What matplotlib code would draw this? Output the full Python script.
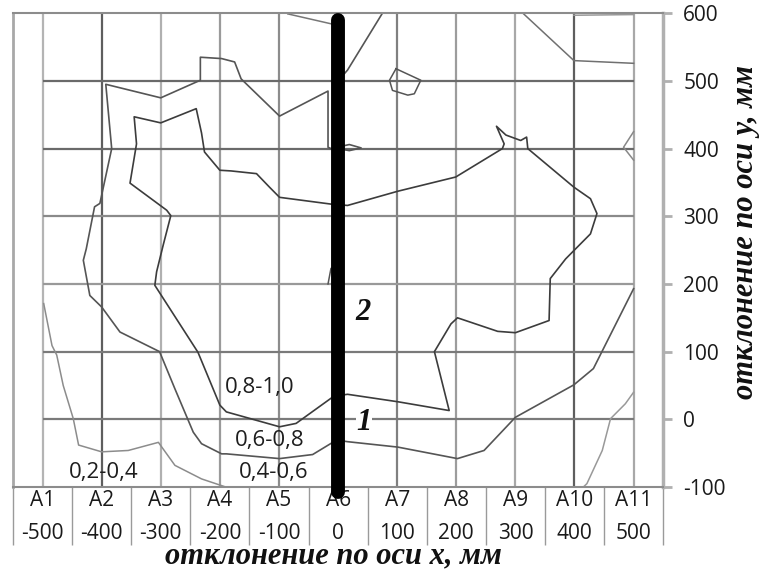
import numpy as np
import matplotlib
matplotlib.use('Agg')
from matplotlib import pyplot as plt

# Measuring points along the x axis and the deviation axis values
point_names = ['A1', 'A2', 'A3', 'A4', 'A5', 'A6', 'A7', 'A8', 'A9', 'A10', 'A11']
x_values = [-500, -400, -300, -200, -100, 0, 100, 200, 300, 400, 500]
y_values = [-100, 0, 100, 200, 300, 400, 500, 600]

# Isolines (x, y in mm)
iso_02_x = [-498, -484, -476, -465, -448, -439, -400, -355, -304, -276, -231, -190]
iso_02_y = [171, 109, 95, 50, 1, -38, -48, -46, -34, -68, -88, -100]

iso_06_x = [500, 432, 399, 300, 247, 202, 101, 16, 0, -9, -43, -99, -189, -197, -231, -245,
            -276, -302, -369, -400, -420, -431, -426, -412, -403, -383, -393, -300, -233,
            -233, -197, -175, -164, -99, -17, -17, -12, 19, 39, 19, 0, 0, 16, 75]
iso_06_y = [193, 75, 51, 3, -46, -58, -41, -33, -31, -34, -52, -58, -51, -51, -36, -19,
            45, 100, 129, 166, 183, 235, 252, 314, 319, 400, 495, 475, 501,
            535, 533, 528, 503, 448, 485, 402, 400, 406, 401, 397, 400, 500, 516, 600]

iso_08_x = [-9, -71, -99, -189, -200, -237, -310, -307, -296, -283, -290, -352, -341, -345,
            -300, -240, -231, -226, -200, -181, -138, -116, -99, -12, 16, 101, 199, 278,
            281, 268, 284, 309, 319, 321, 399, 427, 438, 427, 402, 385, 359, 357, 300,
            270, 202, 191, 163, 188, 101, 16, 0, -9]
iso_08_y = [33, -6, -11, 11, 21, 99, 198, 218, 257, 301, 309, 349, 407, 447,
            438, 459, 423, 395, 368, 367, 363, 343, 328, 318, 316, 337, 358, 400,
            407, 433, 420, 412, 417, 400, 343, 326, 304, 274, 252, 237, 208, 146, 128,
            130, 150, 141, 100, 13, 26, 37, 35, 33]

iso_right_x = [500, 486, 461, 447, 421, 415]
iso_right_y = [40, 23, 1, -46, -95, -100]

iso_top_left_x = [-85, -10, 0]
iso_top_left_y = [599, 584, 582]

iso_top_right_x = [314, 399, 500]
iso_top_right_y = [599, 530, 526]

iso_top_edge_x = [399, 500]
iso_top_edge_y = [597, 598]

iso_loop_x = [98, 140, 129, 118, 92, 87, 98]
iso_loop_y = [518, 501, 481, 479, 486, 501, 518]

iso_edge_x = [500, 483, 500]
iso_edge_y = [425, 402, 383]

iso_tick_x = [-17, -12, 0]
iso_tick_y = [200, 223, 226]

zone_labels = ['0,8-1,0', '0,6-0,8', '0,4-0,6', '0,2-0,4']
zone_label_x = [-132, -116, -109, -396]
zone_label_y = [47, -32, -79, -79]

section_x = 0
section_y = [-108, 590]
zone_numbers = ['2', '1']
zone_number_x = [42, 44]
zone_number_y = [158, -4]


def main():
    fig = plt.figure(figsize=(7.64, 5.75), dpi=100)
    ax = fig.add_axes([0.017, 0.153, 0.851, 0.824])
    ax.set_xlim(-550, 550)
    ax.set_ylim(-100, 600)

    # grid (shaded like the original surface chart)
    v_colors = ['#b4b4b4', '#5e5e5e', '#b0b0b0', '#9a9a9a', '#8c8c8c', '#808080',
                '#808080', '#9c9c9c', '#a8a8a8', '#5e5e5e', '#a8a8a8']
    ax.vlines(x_values, -100, 600, colors=v_colors, linewidth=1.6, zorder=1)
    h_colors = ['#7a7a7a', '#7a7a7a', '#999999', '#8a8a8a', '#6a6a6a', '#6a6a6a']
    ax.hlines(y_values[1:-1], x_values[0], x_values[-1], colors=h_colors,
              linewidth=1.6, zorder=1)

    # isolines
    ax.plot(iso_02_x, iso_02_y, color='#8c8c8c', lw=1.1, zorder=2)
    ax.plot(iso_06_x, iso_06_y, color='#555555', lw=1.2, zorder=2)
    ax.plot(iso_08_x, iso_08_y, color='#3c3c3c', lw=1.2, zorder=2)
    ax.plot(iso_right_x, iso_right_y, color='#999999', lw=1.1, zorder=2)
    ax.plot(iso_top_left_x, iso_top_left_y, color='#777777', lw=1.1, zorder=2)
    ax.plot(iso_top_right_x, iso_top_right_y, color='#707070', lw=1.1, zorder=2)
    ax.plot(iso_top_edge_x, iso_top_edge_y, color='#999999', lw=1.1, zorder=2)
    ax.plot(iso_loop_x, iso_loop_y, color='#555555', lw=1.1, zorder=2)
    ax.plot(iso_edge_x, iso_edge_y, color='#888888', lw=1.1, zorder=2)
    ax.plot(iso_tick_x, iso_tick_y, color='#555555', lw=1.1, zorder=2)

    # section line
    ax.plot([section_x, section_x], section_y, color='black', lw=10,
            solid_capstyle='round', clip_on=False, zorder=4)

    for t, x, y in zip(zone_labels, zone_label_x, zone_label_y):
        ax.text(x, y, t, ha='center', va='center', fontsize=16,
                family='Open Sans', color='#1e1e1e', zorder=3)
    for t, x, y in zip(zone_numbers, zone_number_x, zone_number_y):
        ax.text(x, y, t, ha='center', va='center', fontsize=22, style='italic',
                weight='bold', family='Liberation Serif', color='#111111', zorder=3,
                bbox=dict(facecolor='white', edgecolor='none', pad=0.5))

    # x axis: two-row category table
    ax.set_xticks(x_values)
    ax.set_xticklabels([f'{n}\n{v}' for n, v in zip(point_names, x_values)],
                       family='Open Sans', fontsize=15, color='#1a1a1a', linespacing=1.75)
    ax.set_xticks(np.arange(-550, 551, 100), minor=True)
    ax.tick_params(axis='x', which='major', length=0, pad=2)
    ax.tick_params(axis='x', which='minor', length=42, width=1.0, color='#9a9a9a',
                   direction='out')

    # y axis on the right
    ax.yaxis.tick_right()
    ax.set_yticks(y_values)
    ax.set_yticklabels([str(v) for v in y_values], family='Open Sans', fontsize=15,
                       color='#1a1a1a')
    ax.tick_params(axis='y', which='major', length=6.5, width=2, color='#b0b0b0', pad=8)

    for side, c, w in [('left', '#a8a8a8', 2.0), ('right', '#b0b0b0', 2.5),
                       ('top', '#8c8c8c', 1.5), ('bottom', '#8c8c8c', 1.5)]:
        ax.spines[side].set_color(c)
        ax.spines[side].set_linewidth(w)

    fig.text(333 / 764, 1 - 556 / 575, 'отклонение по оси x, мм', family='Liberation Serif',
             fontsize=22, style='italic', weight='bold', color='#111111',
             ha='center', va='center')
    fig.text(745 / 764, 1 - 232 / 575, 'отклонение по оси y, мм', family='Liberation Serif',
             fontsize=22, style='italic', weight='bold', color='#111111',
             ha='center', va='center', rotation=90)

    fig.savefig('out.png', dpi=100)


if __name__ == '__main__':
    main()
